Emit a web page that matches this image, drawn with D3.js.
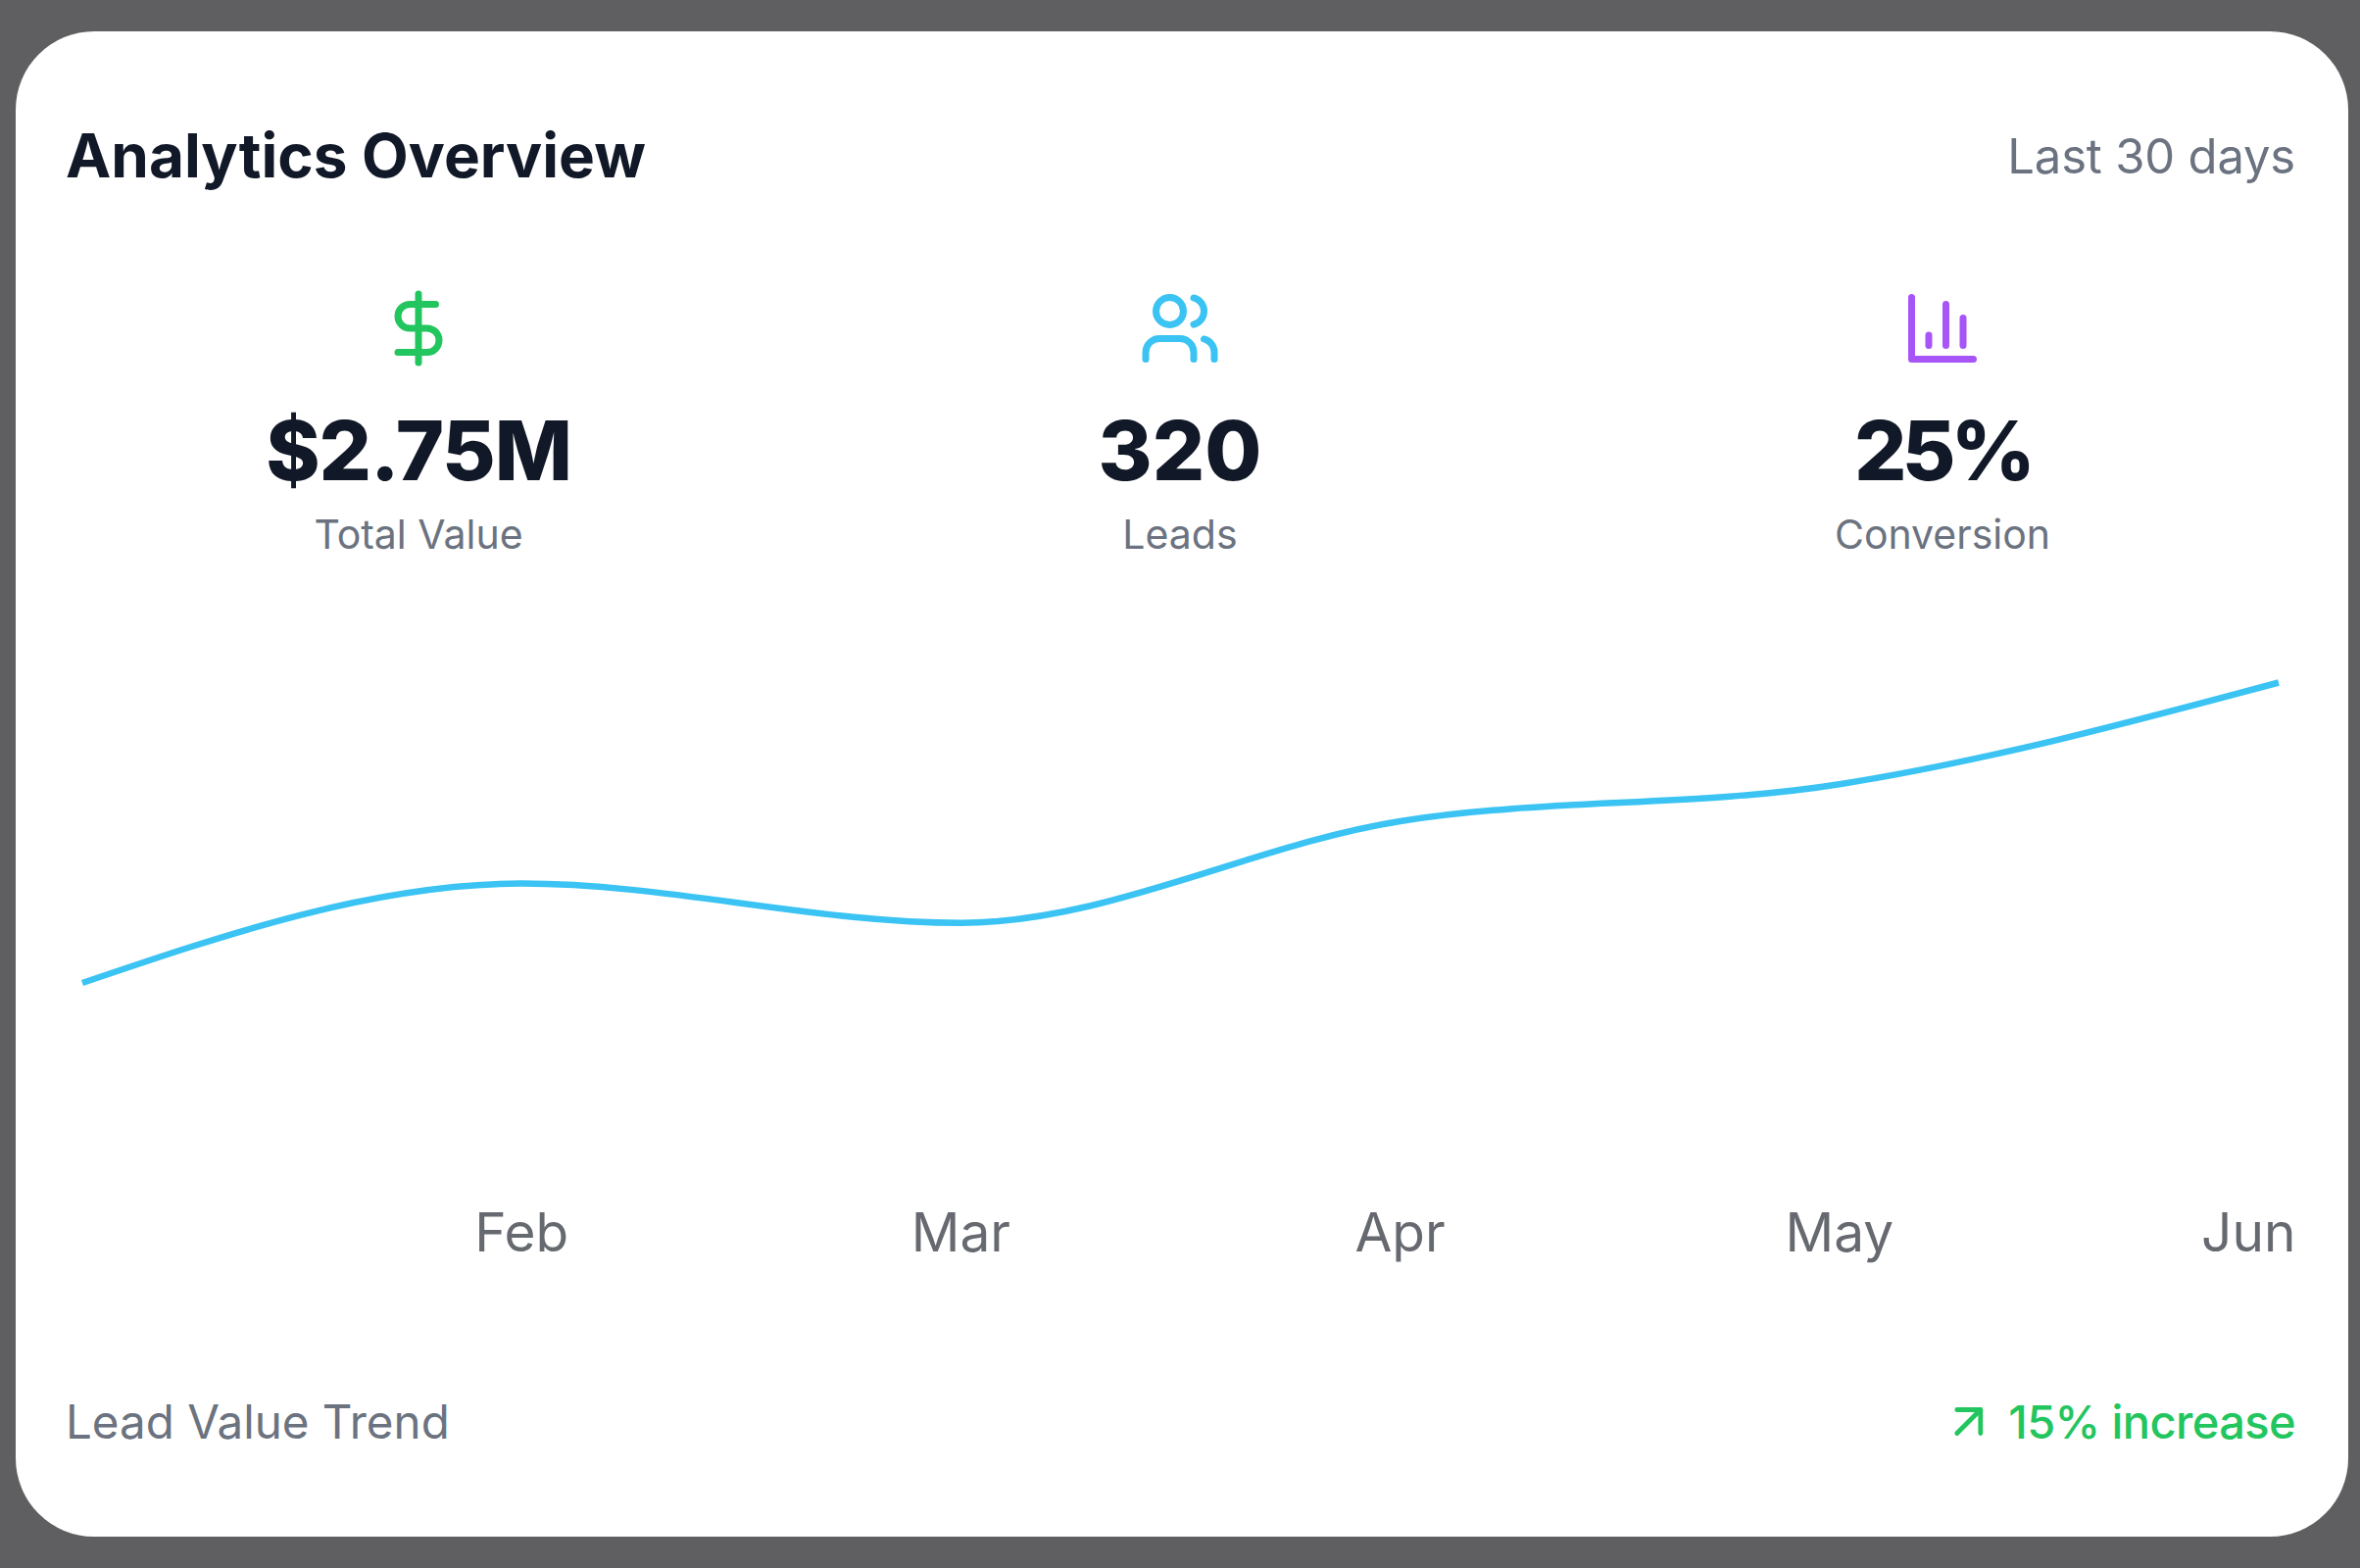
<!DOCTYPE html>
<html><head><meta charset="utf-8">
<script src="https://cdn.jsdelivr.net/npm/d3@7"></script>
<style>html,body{margin:0;padding:0;background:#5f5f61}svg{display:block}text{font-family:Inter,"Noto Sans",sans-serif}</style>
</head><body><svg id="c" width="2408" height="1600"></svg>
<script>
const months = ["Jan","Feb","Mar","Apr","May","Jun"];
const leadValues = [2.10,2.315,2.23,2.45,2.53,2.75];
const tickLabels = ["Feb","Mar","Apr","May","Jun"];
const statValues = ["$2.75M","320","25%"];
const statLabels = ["Total Value","Leads","Conversion"];
const statColors = ["#22c55e","#3ac3f3","#a855f7"];
const statCentres = [427,1204,1982];
const iconPaths = [
 ["M12 2V22","M17 5H9.5a3.5 3.5 0 0 0 0 7h5a3.5 3.5 0 0 1 0 7H6"],
 ["M16 21v-2a4 4 0 0 0-4-4H6a4 4 0 0 0-4 4v2","M13 7a4 4 0 1 1-8 0a4 4 0 1 1 8 0","M22 21v-2a4 4 0 0 0-3-3.87","M16 3.13a4 4 0 0 1 0 7.75"],
 ["M3 3v18h18","M18 17V9","M13 17V5","M8 17v-3"]
];
const statSpacing = [-1.2,0,-5];
const svg = d3.select("#c");
svg.append("rect").attr("width",2408).attr("height",1600).attr("fill","#5f5f61");
svg.append("rect").attr("x",16).attr("y",32).attr("width",2380).attr("height",1536).attr("rx",80).attr("ry",80).attr("fill","#fff");
const T=(s,x,y,size,weight,fill,anchor,ls)=>svg.append("text").attr("x",x).attr("y",y).attr("font-size",size).attr("font-weight",weight).attr("fill",fill).attr("text-anchor",anchor||"start").attr("letter-spacing",ls||0).text(s);
T("Analytics Overview",67,181,62,650,"#111827");
T("Last 30 days",2342,177,49,400,"#6b7280","end",-0.2);
statValues.forEach((v,i)=>{
  T(v,statCentres[i],490,84,800,"#111827","middle",statSpacing[i]);
  T(statLabels[i],statCentres[i],560,41,400,"#6b7280","middle");
  const g=svg.append("g").attr("transform",`translate(${statCentres[i]-42},${335-42}) scale(3.5)`);
  iconPaths[i].forEach(d=>g.append("path").attr("d",d).attr("fill","none").attr("stroke",statColors[i]).attr("stroke-width",2).attr("stroke-linecap","round").attr("stroke-linejoin","round"));
});
const x=d3.scalePoint().domain(months).range([84,2325]);
const y=d3.scaleLinear().domain([2.10,2.75]).range([1003,696.5]);
svg.append("path").datum(leadValues).attr("d",d3.line().x((d,i)=>x(months[i])).y(d=>y(d)).curve(d3.curveMonotoneX)).attr("fill","none").attr("stroke","#3ac3f3").attr("stroke-width",6.5);
const axis=svg.append("g").attr("transform","translate(0,1277)").call(d3.axisBottom(x).tickValues(tickLabels).tickSize(0).tickPadding(0));
axis.select(".domain").remove();
axis.selectAll("text").attr("y",0).attr("dy",0).attr("dx",-0.5).attr("font-size",55).attr("fill","#666a70").attr("style","font-family:Inter");
axis.selectAll(".tick").filter(d=>d==="Jun").select("text").attr("text-anchor","end").attr("dx",0).attr("x",2342-x("Jun"));
T("Lead Value Trend",67,1468,47.5,400,"#6b7280");
T("15% increase",2342,1468,47,450,"#22c55e","end",-0.6);
const a=svg.append("g").attr("transform","translate(1980,1421.7) scale(2.4)");
["M7 7h10v10","M7 17 17 7"].forEach(d=>a.append("path").attr("d",d).attr("fill","none").attr("stroke","#22c55e").attr("stroke-width",2).attr("stroke-linecap","round").attr("stroke-linejoin","round"));
</script></body></html>
